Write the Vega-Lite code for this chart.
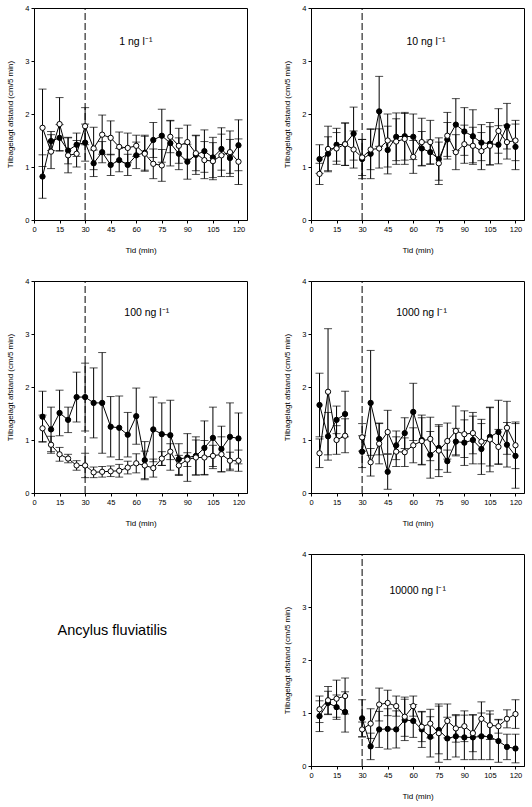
{
  "$schema": "https://vega.github.io/schema/vega-lite/v6.json",
  "padding": {"left": 6, "top": 3, "right": 4, "bottom": 4},
  "background": "white",
  "columns": 2,
  "spacing": {"row": 21, "column": 35},
  "datasets": {
    "d": [
      {"c":1,"t":5,"g":"f","y":0.82,"e":0.41},{"c":1,"t":5,"g":"o","y":1.74,"e":0.73},
      {"c":1,"t":10,"g":"f","y":1.49,"e":0.18},{"c":1,"t":10,"g":"o","y":1.29,"e":0.32},
      {"c":1,"t":15,"g":"f","y":1.55,"e":0.25},{"c":1,"t":15,"g":"o","y":1.81,"e":0.50},
      {"c":1,"t":20,"g":"f","y":1.31,"e":0.25},{"c":1,"t":20,"g":"o","y":1.22,"e":0.33},
      {"c":1,"t":25,"g":"f","y":1.42,"e":0.22},{"c":1,"t":25,"g":"o","y":1.25,"e":0.25},
      {"c":1,"t":30,"g":"f","y":1.46,"e":0.35},{"c":1,"t":30,"g":"o","y":1.77,"e":0.35},
      {"c":1,"t":35,"g":"f","y":1.07,"e":0.25},{"c":1,"t":35,"g":"o","y":1.35,"e":0.40},
      {"c":1,"t":40,"g":"f","y":1.28,"e":0.20},{"c":1,"t":40,"g":"o","y":1.61,"e":0.37},
      {"c":1,"t":45,"g":"f","y":1.04,"e":0.20},{"c":1,"t":45,"g":"o","y":1.55,"e":0.32},
      {"c":1,"t":50,"g":"f","y":1.13,"e":0.22},{"c":1,"t":50,"g":"o","y":1.38,"e":0.28},
      {"c":1,"t":55,"g":"f","y":1.04,"e":0.20},{"c":1,"t":55,"g":"o","y":1.36,"e":0.28},
      {"c":1,"t":60,"g":"f","y":1.22,"e":0.25},{"c":1,"t":60,"g":"o","y":1.40,"e":0.20},
      {"c":1,"t":65,"g":"f","y":1.27,"e":0.33},{"c":1,"t":65,"g":"o","y":1.25,"e":0.33},
      {"c":1,"t":70,"g":"f","y":1.51,"e":0.33},{"c":1,"t":70,"g":"o","y":1.06,"e":0.28},
      {"c":1,"t":75,"g":"f","y":1.59,"e":0.50},{"c":1,"t":75,"g":"o","y":1.03,"e":0.30},
      {"c":1,"t":80,"g":"f","y":1.45,"e":0.43},{"c":1,"t":80,"g":"o","y":1.57,"e":0.30},
      {"c":1,"t":85,"g":"f","y":1.25,"e":0.30},{"c":1,"t":85,"g":"o","y":1.40,"e":0.33},
      {"c":1,"t":90,"g":"f","y":1.10,"e":0.33},{"c":1,"t":90,"g":"o","y":1.47,"e":0.32},
      {"c":1,"t":95,"g":"f","y":1.23,"e":0.37},{"c":1,"t":95,"g":"o","y":1.26,"e":0.33},
      {"c":1,"t":100,"g":"f","y":1.30,"e":0.40},{"c":1,"t":100,"g":"o","y":1.13,"e":0.35},
      {"c":1,"t":105,"g":"f","y":1.18,"e":0.38},{"c":1,"t":105,"g":"o","y":1.11,"e":0.35},
      {"c":1,"t":110,"g":"f","y":1.34,"e":0.40},{"c":1,"t":110,"g":"o","y":1.22,"e":0.40},
      {"c":1,"t":115,"g":"f","y":1.17,"e":0.35},{"c":1,"t":115,"g":"o","y":1.28,"e":0.40},
      {"c":1,"t":120,"g":"f","y":1.41,"e":0.48},{"c":1,"t":120,"g":"o","y":1.10,"e":0.43},

      {"c":10,"t":5,"g":"f","y":1.15,"e":0.27},{"c":10,"t":5,"g":"o","y":0.87,"e":0.20},
      {"c":10,"t":10,"g":"f","y":1.25,"e":0.32},{"c":10,"t":10,"g":"o","y":1.34,"e":0.43},
      {"c":10,"t":15,"g":"f","y":1.42,"e":0.31},{"c":10,"t":15,"g":"o","y":1.35,"e":0.30},
      {"c":10,"t":20,"g":"f","y":1.43,"e":0.40},{"c":10,"t":20,"g":"o","y":1.43,"e":0.40},
      {"c":10,"t":25,"g":"f","y":1.63,"e":0.50},{"c":10,"t":25,"g":"o","y":1.33,"e":0.35},
      {"c":10,"t":30,"g":"f","y":1.15,"e":0.37},{"c":10,"t":30,"g":"o","y":1.18,"e":0.34},
      {"c":10,"t":35,"g":"f","y":1.25,"e":0.47},{"c":10,"t":35,"g":"o","y":1.33,"e":0.38},
      {"c":10,"t":40,"g":"f","y":2.05,"e":0.66},{"c":10,"t":40,"g":"o","y":1.35,"e":0.37},
      {"c":10,"t":45,"g":"f","y":1.32,"e":0.45},{"c":10,"t":45,"g":"o","y":1.50,"e":0.50},
      {"c":10,"t":50,"g":"f","y":1.57,"e":0.45},{"c":10,"t":50,"g":"o","y":1.48,"e":0.43},
      {"c":10,"t":55,"g":"f","y":1.58,"e":0.45},{"c":10,"t":55,"g":"o","y":1.53,"e":0.48},
      {"c":10,"t":60,"g":"f","y":1.57,"e":0.43},{"c":10,"t":60,"g":"o","y":1.19,"e":0.31},
      {"c":10,"t":65,"g":"f","y":1.35,"e":0.32},{"c":10,"t":65,"g":"o","y":1.47,"e":0.45},
      {"c":10,"t":70,"g":"f","y":1.28,"e":0.23},{"c":10,"t":70,"g":"o","y":1.47,"e":0.41},
      {"c":10,"t":75,"g":"f","y":1.15,"e":0.40},{"c":10,"t":75,"g":"o","y":1.07,"e":0.40},
      {"c":10,"t":80,"g":"f","y":1.52,"e":0.32},{"c":10,"t":80,"g":"o","y":1.59,"e":0.44},
      {"c":10,"t":85,"g":"f","y":1.80,"e":0.49},{"c":10,"t":85,"g":"o","y":1.28,"e":0.33},
      {"c":10,"t":90,"g":"f","y":1.67,"e":0.45},{"c":10,"t":90,"g":"o","y":1.43,"e":0.36},
      {"c":10,"t":95,"g":"f","y":1.58,"e":0.50},{"c":10,"t":95,"g":"o","y":1.40,"e":0.35},
      {"c":10,"t":100,"g":"f","y":1.46,"e":0.34},{"c":10,"t":100,"g":"o","y":1.30,"e":0.35},
      {"c":10,"t":105,"g":"f","y":1.44,"e":0.40},{"c":10,"t":105,"g":"o","y":1.40,"e":0.36},
      {"c":10,"t":110,"g":"f","y":1.42,"e":0.36},{"c":10,"t":110,"g":"o","y":1.68,"e":0.42},
      {"c":10,"t":115,"g":"f","y":1.77,"e":0.43},{"c":10,"t":115,"g":"o","y":1.47,"e":0.32},
      {"c":10,"t":120,"g":"f","y":1.38,"e":0.43},{"c":10,"t":120,"g":"o","y":1.50,"e":0.38},

      {"c":100,"t":5,"g":"f","y":1.44,"e":0.48},{"c":100,"t":5,"g":"o","y":1.22,"e":0.25},
      {"c":100,"t":10,"g":"f","y":1.20,"e":0.42},{"c":100,"t":10,"g":"o","y":0.91,"e":0.16},
      {"c":100,"t":15,"g":"f","y":1.51,"e":0.43},{"c":100,"t":15,"g":"o","y":0.73,"e":0.13},
      {"c":100,"t":20,"g":"f","y":1.38,"e":0.24},{"c":100,"t":20,"g":"o","y":0.65,"e":0.08},
      {"c":100,"t":25,"g":"f","y":1.81,"e":0.47},{"c":100,"t":25,"g":"o","y":0.52,"e":0.09},
      {"c":100,"t":30,"g":"f","y":1.81,"e":0.64},{"c":100,"t":30,"g":"o","y":0.52,"e":0.23},
      {"c":100,"t":35,"g":"f","y":1.70,"e":0.66},{"c":100,"t":35,"g":"o","y":0.39,"e":0.10},
      {"c":100,"t":40,"g":"f","y":1.70,"e":0.95},{"c":100,"t":40,"g":"o","y":0.40,"e":0.10},
      {"c":100,"t":45,"g":"f","y":1.25,"e":0.57},{"c":100,"t":45,"g":"o","y":0.41,"e":0.10},
      {"c":100,"t":50,"g":"f","y":1.23,"e":0.60},{"c":100,"t":50,"g":"o","y":0.42,"e":0.12},
      {"c":100,"t":55,"g":"f","y":1.10,"e":0.42},{"c":100,"t":55,"g":"o","y":0.48,"e":0.12},
      {"c":100,"t":60,"g":"f","y":1.45,"e":0.53},{"c":100,"t":60,"g":"o","y":0.56,"e":0.18},
      {"c":100,"t":65,"g":"f","y":0.62,"e":0.35},{"c":100,"t":65,"g":"o","y":0.52,"e":0.27},
      {"c":100,"t":70,"g":"f","y":1.20,"e":0.61},{"c":100,"t":70,"g":"o","y":0.47,"e":0.17},
      {"c":100,"t":75,"g":"f","y":1.11,"e":0.59},{"c":100,"t":75,"g":"o","y":0.65,"e":0.13},
      {"c":100,"t":80,"g":"f","y":1.09,"e":0.66},{"c":100,"t":80,"g":"o","y":0.78,"e":0.15},
      {"c":100,"t":85,"g":"f","y":0.64,"e":0.29},{"c":100,"t":85,"g":"o","y":0.52,"e":0.19},
      {"c":100,"t":90,"g":"f","y":0.67,"e":0.45},{"c":100,"t":90,"g":"o","y":0.63,"e":0.13},
      {"c":100,"t":95,"g":"f","y":0.70,"e":0.36},{"c":100,"t":95,"g":"o","y":0.67,"e":0.33},
      {"c":100,"t":100,"g":"f","y":0.85,"e":0.51},{"c":100,"t":100,"g":"o","y":0.67,"e":0.32},
      {"c":100,"t":105,"g":"f","y":1.04,"e":0.58},{"c":100,"t":105,"g":"o","y":0.70,"e":0.20},
      {"c":100,"t":110,"g":"f","y":0.83,"e":0.43},{"c":100,"t":110,"g":"o","y":0.73,"e":0.33},
      {"c":100,"t":115,"g":"f","y":1.06,"e":0.64},{"c":100,"t":115,"g":"o","y":0.61,"e":0.16},
      {"c":100,"t":120,"g":"f","y":1.03,"e":0.48},{"c":100,"t":120,"g":"o","y":0.61,"e":0.20},

      {"c":1000,"t":5,"g":"f","y":1.66,"e":0.60},{"c":1000,"t":5,"g":"o","y":0.75,"e":0.27},
      {"c":1000,"t":10,"g":"f","y":1.07,"e":0.45},{"c":1000,"t":10,"g":"o","y":1.91,"e":1.19},
      {"c":1000,"t":15,"g":"f","y":1.38,"e":0.26},{"c":1000,"t":15,"g":"o","y":1.00,"e":0.27},
      {"c":1000,"t":20,"g":"f","y":1.49,"e":0.43},{"c":1000,"t":20,"g":"o","y":1.08,"e":0.32},
      {"c":1000,"t":25,"g":"f","y":null,"e":null},{"c":1000,"t":25,"g":"o","y":null,"e":null},
      {"c":1000,"t":30,"g":"f","y":0.78,"e":0.30},{"c":1000,"t":30,"g":"o","y":1.05,"e":0.26},
      {"c":1000,"t":35,"g":"f","y":1.70,"e":0.99},{"c":1000,"t":35,"g":"o","y":0.58,"e":0.26},
      {"c":1000,"t":40,"g":"f","y":1.02,"e":0.30},{"c":1000,"t":40,"g":"o","y":0.93,"e":0.38},
      {"c":1000,"t":45,"g":"f","y":0.40,"e":0.33},{"c":1000,"t":45,"g":"o","y":1.15,"e":0.41},
      {"c":1000,"t":50,"g":"f","y":0.90,"e":0.27},{"c":1000,"t":50,"g":"o","y":0.78,"e":0.28},
      {"c":1000,"t":55,"g":"f","y":1.13,"e":0.29},{"c":1000,"t":55,"g":"o","y":0.77,"e":0.27},
      {"c":1000,"t":60,"g":"f","y":1.53,"e":0.54},{"c":1000,"t":60,"g":"o","y":0.90,"e":0.33},
      {"c":1000,"t":65,"g":"f","y":1.00,"e":0.47},{"c":1000,"t":65,"g":"o","y":0.98,"e":0.44},
      {"c":1000,"t":70,"g":"f","y":0.72,"e":0.44},{"c":1000,"t":70,"g":"o","y":1.02,"e":0.41},
      {"c":1000,"t":75,"g":"f","y":0.85,"e":0.41},{"c":1000,"t":75,"g":"o","y":0.80,"e":0.49},
      {"c":1000,"t":80,"g":"f","y":0.60,"e":0.21},{"c":1000,"t":80,"g":"o","y":0.98,"e":0.34},
      {"c":1000,"t":85,"g":"f","y":0.97,"e":0.25},{"c":1000,"t":85,"g":"o","y":1.17,"e":0.47},
      {"c":1000,"t":90,"g":"f","y":0.95,"e":0.43},{"c":1000,"t":90,"g":"o","y":1.11,"e":0.44},
      {"c":1000,"t":95,"g":"f","y":1.00,"e":0.45},{"c":1000,"t":95,"g":"o","y":1.13,"e":0.39},
      {"c":1000,"t":100,"g":"f","y":0.83,"e":0.48},{"c":1000,"t":100,"g":"o","y":0.97,"e":0.42},
      {"c":1000,"t":105,"g":"f","y":1.06,"e":0.55},{"c":1000,"t":105,"g":"o","y":1.01,"e":0.61},
      {"c":1000,"t":110,"g":"f","y":1.15,"e":0.60},{"c":1000,"t":110,"g":"o","y":0.87,"e":0.33},
      {"c":1000,"t":115,"g":"f","y":0.91,"e":0.42},{"c":1000,"t":115,"g":"o","y":1.23,"e":0.50},
      {"c":1000,"t":120,"g":"f","y":0.70,"e":0.61},{"c":1000,"t":120,"g":"o","y":0.90,"e":0.44},

      {"c":10000,"t":5,"g":"f","y":0.94,"e":0.29},{"c":10000,"t":5,"g":"o","y":1.07,"e":0.25},
      {"c":10000,"t":10,"g":"f","y":1.19,"e":0.22},{"c":10000,"t":10,"g":"o","y":1.24,"e":0.26},
      {"c":10000,"t":15,"g":"f","y":1.11,"e":0.23},{"c":10000,"t":15,"g":"o","y":1.27,"e":0.35},
      {"c":10000,"t":20,"g":"f","y":1.02,"e":0.38},{"c":10000,"t":20,"g":"o","y":1.32,"e":0.34},
      {"c":10000,"t":25,"g":"f","y":null,"e":null},{"c":10000,"t":25,"g":"o","y":null,"e":null},
      {"c":10000,"t":30,"g":"f","y":0.90,"e":0.35},{"c":10000,"t":30,"g":"o","y":0.69,"e":0.14},
      {"c":10000,"t":35,"g":"f","y":0.37,"e":0.25},{"c":10000,"t":35,"g":"o","y":0.80,"e":0.28},
      {"c":10000,"t":40,"g":"f","y":0.69,"e":0.34},{"c":10000,"t":40,"g":"o","y":1.16,"e":0.31},
      {"c":10000,"t":45,"g":"f","y":0.70,"e":0.38},{"c":10000,"t":45,"g":"o","y":1.19,"e":0.24},
      {"c":10000,"t":50,"g":"f","y":0.69,"e":0.35},{"c":10000,"t":50,"g":"o","y":1.13,"e":0.19},
      {"c":10000,"t":55,"g":"f","y":0.87,"e":0.39},{"c":10000,"t":55,"g":"o","y":0.93,"e":0.37},
      {"c":10000,"t":60,"g":"f","y":0.85,"e":0.31},{"c":10000,"t":60,"g":"o","y":1.13,"e":0.19},
      {"c":10000,"t":65,"g":"f","y":0.69,"e":0.34},{"c":10000,"t":65,"g":"o","y":0.74,"e":0.28},
      {"c":10000,"t":70,"g":"f","y":0.55,"e":0.38},{"c":10000,"t":70,"g":"o","y":0.80,"e":0.27},
      {"c":10000,"t":75,"g":"f","y":0.68,"e":0.45},{"c":10000,"t":75,"g":"o","y":0.62,"e":0.55},
      {"c":10000,"t":80,"g":"f","y":0.52,"e":0.40},{"c":10000,"t":80,"g":"o","y":0.85,"e":0.32},
      {"c":10000,"t":85,"g":"f","y":0.56,"e":0.39},{"c":10000,"t":85,"g":"o","y":0.71,"e":0.26},
      {"c":10000,"t":90,"g":"f","y":0.54,"e":0.42},{"c":10000,"t":90,"g":"o","y":0.75,"e":0.29},
      {"c":10000,"t":95,"g":"f","y":0.54,"e":0.42},{"c":10000,"t":95,"g":"o","y":0.62,"e":0.35},
      {"c":10000,"t":100,"g":"f","y":0.56,"e":0.44},{"c":10000,"t":100,"g":"o","y":0.89,"e":0.32},
      {"c":10000,"t":105,"g":"f","y":0.55,"e":0.43},{"c":10000,"t":105,"g":"o","y":0.77,"e":0.27},
      {"c":10000,"t":110,"g":"f","y":0.47,"e":0.40},{"c":10000,"t":110,"g":"o","y":0.75,"e":0.13},
      {"c":10000,"t":115,"g":"f","y":0.36,"e":0.24},{"c":10000,"t":115,"g":"o","y":0.89,"e":0.17},
      {"c":10000,"t":120,"g":"f","y":0.33,"e":0.27},{"c":10000,"t":120,"g":"o","y":0.98,"e":0.27}
    ]
  },
  "concat": [
    {
      "width": 213, "height": 212,
      "data": {"name": "d"},
      "transform": [{"filter": "datum.c === 1"}],
      "encoding": {
        "x": {"field": "t", "type": "quantitative", "scale": {"domain": [0, 125], "nice": false}, "axis": {"values": [0, 15, 30, 45, 60, 75, 90, 105, 120], "title": "Tid (min)"}},
        "y": {"field": "y", "type": "quantitative", "scale": {"domain": [0, 4], "nice": false}, "axis": {"values": [0, 1, 2, 3, 4], "format": "d", "title": "Tilbagelagt afstand (cm/5 min)"}}
      },
      "layer": [
        {"transform": [{"filter": "datum.t === 30 && datum.g === 'f'"}], "mark": {"type": "rule", "strokeDash": [7, 3], "color": "black", "strokeWidth": 1}, "encoding": {"y": {"datum": 0}, "y2": {"datum": 4}}},
        {"transform": [{"filter": "isValid(datum.y)"}], "mark": {"type": "errorbar", "color": "black", "ticks": {"size": 8, "color": "black"}}, "encoding": {"yError": {"field": "e"}, "detail": {"field": "g"}}},
        {"mark": {"type": "line", "color": "black", "strokeWidth": 1}, "encoding": {"detail": {"field": "g"}}},
        {"mark": {"type": "point", "shape": "circle", "size": 28, "stroke": "black", "strokeWidth": 1, "opacity": 1}, "encoding": {"fill": {"field": "g", "type": "nominal", "scale": {"domain": ["f", "o"], "range": ["black", "white"]}, "legend": null}}},
        {"transform": [{"filter": "datum.t === 5 && datum.g === 'f'"}], "mark": {"type": "text", "align": "left", "baseline": "middle", "fontSize": 10.5}, "encoding": {"x": {"datum": 50}, "y": {"datum": 3.35}, "text": {"value": "1 ng l⁻¹"}}}
      ]
    },
    {
      "width": 213, "height": 212,
      "data": {"name": "d"},
      "transform": [{"filter": "datum.c === 10"}],
      "encoding": {
        "x": {"field": "t", "type": "quantitative", "scale": {"domain": [0, 125], "nice": false}, "axis": {"values": [0, 15, 30, 45, 60, 75, 90, 105, 120], "title": "Tid (min)"}},
        "y": {"field": "y", "type": "quantitative", "scale": {"domain": [0, 4], "nice": false}, "axis": {"values": [0, 1, 2, 3, 4], "format": "d", "title": "Tilbagelagt afstand (cm/5 min)"}}
      },
      "layer": [
        {"transform": [{"filter": "datum.t === 30 && datum.g === 'f'"}], "mark": {"type": "rule", "strokeDash": [7, 3], "color": "black", "strokeWidth": 1}, "encoding": {"y": {"datum": 0}, "y2": {"datum": 4}}},
        {"transform": [{"filter": "isValid(datum.y)"}], "mark": {"type": "errorbar", "color": "black", "ticks": {"size": 8, "color": "black"}}, "encoding": {"yError": {"field": "e"}, "detail": {"field": "g"}}},
        {"mark": {"type": "line", "color": "black", "strokeWidth": 1}, "encoding": {"detail": {"field": "g"}}},
        {"mark": {"type": "point", "shape": "circle", "size": 28, "stroke": "black", "strokeWidth": 1, "opacity": 1}, "encoding": {"fill": {"field": "g", "type": "nominal", "scale": {"domain": ["f", "o"], "range": ["black", "white"]}, "legend": null}}},
        {"transform": [{"filter": "datum.t === 5 && datum.g === 'f'"}], "mark": {"type": "text", "align": "left", "baseline": "middle", "fontSize": 10.5}, "encoding": {"x": {"datum": 56}, "y": {"datum": 3.35}, "text": {"value": "10 ng l⁻¹"}}}
      ]
    },
    {
      "width": 213, "height": 212,
      "data": {"name": "d"},
      "transform": [{"filter": "datum.c === 100"}],
      "encoding": {
        "x": {"field": "t", "type": "quantitative", "scale": {"domain": [0, 125], "nice": false}, "axis": {"values": [0, 15, 30, 45, 60, 75, 90, 105, 120], "title": "Tid (min)"}},
        "y": {"field": "y", "type": "quantitative", "scale": {"domain": [0, 4], "nice": false}, "axis": {"values": [0, 1, 2, 3, 4], "format": "d", "title": "Tilbagelagt afstand (cm/5 min)"}}
      },
      "layer": [
        {"transform": [{"filter": "datum.t === 30 && datum.g === 'f'"}], "mark": {"type": "rule", "strokeDash": [7, 3], "color": "black", "strokeWidth": 1}, "encoding": {"y": {"datum": 0}, "y2": {"datum": 4}}},
        {"transform": [{"filter": "isValid(datum.y)"}], "mark": {"type": "errorbar", "color": "black", "ticks": {"size": 8, "color": "black"}}, "encoding": {"yError": {"field": "e"}, "detail": {"field": "g"}}},
        {"mark": {"type": "line", "color": "black", "strokeWidth": 1}, "encoding": {"detail": {"field": "g"}}},
        {"mark": {"type": "point", "shape": "circle", "size": 28, "stroke": "black", "strokeWidth": 1, "opacity": 1}, "encoding": {"fill": {"field": "g", "type": "nominal", "scale": {"domain": ["f", "o"], "range": ["black", "white"]}, "legend": null}}},
        {"transform": [{"filter": "datum.t === 5 && datum.g === 'f'"}], "mark": {"type": "text", "align": "left", "baseline": "middle", "fontSize": 10.5}, "encoding": {"x": {"datum": 53}, "y": {"datum": 3.4}, "text": {"value": "100 ng l⁻¹"}}}
      ]
    },
    {
      "width": 213, "height": 212,
      "data": {"name": "d"},
      "transform": [{"filter": "datum.c === 1000"}],
      "encoding": {
        "x": {"field": "t", "type": "quantitative", "scale": {"domain": [0, 125], "nice": false}, "axis": {"values": [0, 15, 30, 45, 60, 75, 90, 105, 120], "title": "Tid (min)"}},
        "y": {"field": "y", "type": "quantitative", "scale": {"domain": [0, 4], "nice": false}, "axis": {"values": [0, 1, 2, 3, 4], "format": "d", "title": "Tilbagelagt afstand (cm/5 min)"}}
      },
      "layer": [
        {"transform": [{"filter": "datum.t === 30 && datum.g === 'f'"}], "mark": {"type": "rule", "strokeDash": [7, 3], "color": "black", "strokeWidth": 1}, "encoding": {"y": {"datum": 0}, "y2": {"datum": 4}}},
        {"transform": [{"filter": "isValid(datum.y)"}], "mark": {"type": "errorbar", "color": "black", "ticks": {"size": 8, "color": "black"}}, "encoding": {"yError": {"field": "e"}, "detail": {"field": "g"}}},
        {"mark": {"type": "line", "color": "black", "strokeWidth": 1}, "encoding": {"detail": {"field": "g"}}},
        {"mark": {"type": "point", "shape": "circle", "size": 28, "stroke": "black", "strokeWidth": 1, "opacity": 1}, "encoding": {"fill": {"field": "g", "type": "nominal", "scale": {"domain": ["f", "o"], "range": ["black", "white"]}, "legend": null}}},
        {"transform": [{"filter": "datum.t === 5 && datum.g === 'f'"}], "mark": {"type": "text", "align": "left", "baseline": "middle", "fontSize": 10.5}, "encoding": {"x": {"datum": 50}, "y": {"datum": 3.4}, "text": {"value": "1000 ng l⁻¹"}}}
      ]
    },
    {
      "width": 213, "height": 212,
      "view": {"stroke": null},
      "data": {"values": [{"art": "Ancylus fluviatilis"}]},
      "mark": {"type": "text", "align": "left", "baseline": "middle", "fontSize": 14.5},
      "encoding": {
        "x": {"datum": 13.8, "type": "quantitative", "scale": {"domain": [0, 125], "nice": false}, "axis": null},
        "y": {"datum": 2.54, "type": "quantitative", "scale": {"domain": [0, 4], "nice": false}, "axis": null},
        "text": {"field": "art"}
      }
    },
    {
      "width": 213, "height": 212,
      "data": {"name": "d"},
      "transform": [{"filter": "datum.c === 10000"}],
      "encoding": {
        "x": {"field": "t", "type": "quantitative", "scale": {"domain": [0, 125], "nice": false}, "axis": {"values": [0, 15, 30, 45, 60, 75, 90, 105, 120], "title": "Tid (min)"}},
        "y": {"field": "y", "type": "quantitative", "scale": {"domain": [0, 4], "nice": false}, "axis": {"values": [0, 1, 2, 3, 4], "format": "d", "title": "Tilbagelagt afstand (cm/5 min)"}}
      },
      "layer": [
        {"transform": [{"filter": "datum.t === 30 && datum.g === 'f'"}], "mark": {"type": "rule", "strokeDash": [7, 3], "color": "black", "strokeWidth": 1}, "encoding": {"y": {"datum": 0}, "y2": {"datum": 4}}},
        {"transform": [{"filter": "isValid(datum.y)"}], "mark": {"type": "errorbar", "color": "black", "ticks": {"size": 8, "color": "black"}}, "encoding": {"yError": {"field": "e"}, "detail": {"field": "g"}}},
        {"mark": {"type": "line", "color": "black", "strokeWidth": 1}, "encoding": {"detail": {"field": "g"}}},
        {"mark": {"type": "point", "shape": "circle", "size": 28, "stroke": "black", "strokeWidth": 1, "opacity": 1}, "encoding": {"fill": {"field": "g", "type": "nominal", "scale": {"domain": ["f", "o"], "range": ["black", "white"]}, "legend": null}}},
        {"transform": [{"filter": "datum.t === 5 && datum.g === 'f'"}], "mark": {"type": "text", "align": "left", "baseline": "middle", "fontSize": 10.5}, "encoding": {"x": {"datum": 46}, "y": {"datum": 3.3}, "text": {"value": "10000 ng l⁻¹"}}}
      ]
    }
  ],
  "config": {
    "font": "Liberation Sans",
    "view": {"stroke": "black", "strokeWidth": 1},
    "axis": {
      "grid": false,
      "domainColor": "black",
      "tickColor": "black",
      "tickSize": 3,
      "labelColor": "black",
      "labelFontSize": 7.5,
      "labelFont": "Liberation Sans",
      "labelPadding": 2,
      "labelFlush": false,
      "labelOverlap": false,
      "titleColor": "black",
      "titleFontSize": 8,
      "titleFont": "Liberation Sans",
      "titleFontWeight": "normal"
    },
    "axisX": {"titlePadding": 14},
    "axisY": {"titlePadding": 10}
  }
}
